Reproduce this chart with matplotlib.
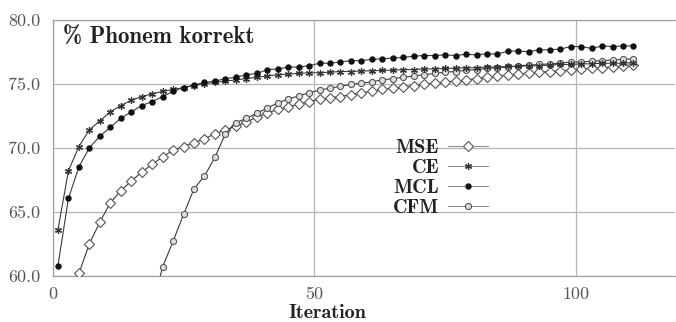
import numpy as np
import matplotlib
matplotlib.use("Agg")
import matplotlib.pyplot as plt

# --- Daten (Iterationen 1,3,...,111) ---
iteration = np.arange(1, 112, 2)

mse = [np.nan, np.nan, 60.2, 62.5, 64.2, 65.7, 66.65, 67.4, 68.1, 68.7,
       69.3, 69.8, 70.1, 70.4, 70.7, 71.1, 71.4, 71.7, 72.0, 72.4,
       72.7, 73.0, 73.2, 73.4, 73.6, 73.8, 73.9, 74.0, 74.15, 74.3,
       74.4, 74.55, 74.65, 74.75, 74.85, 74.95, 75.05, 75.15, 75.2, 75.3,
       75.4, 75.5, 75.6, 75.65, 75.75, 75.85, 75.9, 75.95, 76.0, 76.05,
       76.15, 76.2, 76.25, 76.3, 76.35, 76.45]

ce = [63.6, 68.2, 70.1, 71.4, 72.1, 72.8, 73.3, 73.7, 74.0, 74.2,
      74.4, 74.55, 74.7, 74.85, 75.0, 75.1, 75.2, 75.3, 75.4, 75.5,
      75.6, 75.7, 75.75, 75.8, 75.85, 75.85, 75.9, 75.95, 75.95, 76.0,
      76.0, 76.05, 76.05, 76.1, 76.1, 76.15, 76.15, 76.2, 76.2, 76.25,
      76.25, 76.3, 76.3, 76.35, 76.35, 76.4, 76.4, 76.45, 76.5, 76.5,
      76.55, 76.55, 76.6, 76.6, 76.6, 76.65]

mcl = [60.8, 66.05, 68.5, 70.0, 70.9, 71.6, 72.3, 72.8, 73.3, 73.6,
       74.0, 74.4, 74.7, 74.9, 75.1, 75.2, 75.4, 75.5, 75.7, 75.8,
       76.1, 76.15, 76.3, 76.3, 76.4, 76.6, 76.6, 76.7, 76.8, 76.8,
       76.9, 76.95, 77.0, 77.05, 77.15, 77.2, 77.2, 77.25, 77.2, 77.3,
       77.25, 77.35, 77.3, 77.55, 77.55, 77.5, 77.65, 77.65, 77.7, 77.9,
       77.9, 77.75, 77.95, 77.9, 77.95, 77.95]

cfm = [np.nan, np.nan, np.nan, np.nan, np.nan, np.nan, np.nan, np.nan, np.nan, 57.5,
       60.7, 62.7, 64.8, 66.8, 67.8, 69.25, 71.1, 71.95, 72.3, 72.7,
       73.1, 73.5, 73.8, 74.05, 74.3, 74.5, 74.65, 74.8, 74.95, 75.05,
       75.15, 75.3, 75.4, 75.5, 75.6, 75.7, 75.8, 75.9, 75.95, 76.05,
       76.1, 76.2, 76.25, 76.3, 76.4, 76.45, 76.5, 76.55, 76.6, 76.7,
       76.7, 76.75, 76.8, 76.85, 76.9, 76.95]

x_ticks = [0, 50, 100]
y_ticks = [60.0, 65.0, 70.0, 75.0, 80.0]

# --- Plot ---
fig = plt.figure(figsize=(6.76, 3.22), dpi=100)
ax = fig.add_axes([0.078, 0.143, 0.921, 0.796])

line_col = "#3a3a3a"
ax.plot(iteration, mse, color=line_col, lw=0.8, marker="D", ms=5,
        mfc="white", mec="#555555", mew=0.8, label="MSE", zorder=3)
ax.plot(iteration, ce, color=line_col, lw=0.8, marker=(6, 2, 0), ms=5,
        mec="#333333", mew=0.9, label="CE", zorder=4)
ax.plot(iteration, mcl, color=line_col, lw=0.8, marker="o", ms=3.6,
        mfc="#111111", mec="#111111", label="MCL", zorder=5)
ax.plot(iteration, cfm, color=line_col, lw=0.8, marker="o", ms=4.4,
        mfc="#dddddd", mec="#555555", mew=0.8, label="CFM", zorder=3)

ax.set_xlim(0, 119)
ax.set_ylim(60, 80)
ax.set_xticks(x_ticks)
ax.set_yticks(y_ticks)
ax.set_xticklabels([str(v) for v in x_ticks], family="cmr10", fontsize=13, color="#555555")
ax.set_yticklabels(["%.1f" % v for v in y_ticks], family="cmr10", fontsize=13, color="#555555")
ax.tick_params(length=0, pad=8)
ax.tick_params(axis="y", pad=9)

ax.grid(True, color="#b5b5b5", lw=0.9)
for s in ["left", "bottom", "top"]:
    ax.spines[s].set_color("#a0a0a0")
    ax.spines[s].set_linewidth(0.9)
ax.spines["right"].set_visible(False)

ax.text(0.016, 0.97, "% Phonem korrekt", transform=ax.transAxes,
        family="cmb10", fontsize=16.5, color="#222222", va="top")
ax.set_xlabel("Iteration", family="cmb10", fontsize=14.5, color="#222222")
ax.xaxis.set_label_coords(0.442, -0.108)

leg = ax.legend(loc="upper right", bbox_to_anchor=(0.716, 0.575), frameon=False,
                markerfirst=False, numpoints=1, handlelength=2.0,
                handletextpad=0.45, labelspacing=0.1, borderpad=0,
                prop={"family": "cmb10", "size": 14.5})
for t in leg.get_texts():
    t.set_color("#222222")
for h in leg.legend_handles:
    h.set_color("#888888")
    h.set_linewidth(0.7)

fig.savefig("out.png", dpi=100)
